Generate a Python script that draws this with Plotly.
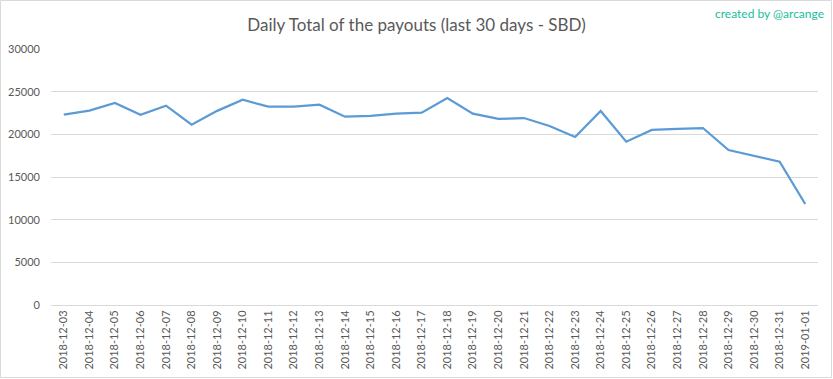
import plotly.graph_objects as go

dates = ["2018-12-03", "2018-12-04", "2018-12-05", "2018-12-06", "2018-12-07",
         "2018-12-08", "2018-12-09", "2018-12-10", "2018-12-11", "2018-12-12",
         "2018-12-13", "2018-12-14", "2018-12-15", "2018-12-16", "2018-12-17",
         "2018-12-18", "2018-12-19", "2018-12-20", "2018-12-21", "2018-12-22",
         "2018-12-23", "2018-12-24", "2018-12-25", "2018-12-26", "2018-12-27",
         "2018-12-28", "2018-12-29", "2018-12-30", "2018-12-31", "2019-01-01"]

payouts = [22300, 22770, 23670, 22300, 23360,
           21130, 22750, 24050, 23240, 23240,
           23470, 22070, 22150, 22420, 22540,
           24260, 22420, 21800, 21910, 20980,
           19690, 22730, 19140, 20510, 20630,
           20740, 18160, 17460, 16800, 11840]

y_ticks = [0, 5000, 10000, 15000, 20000, 25000, 30000]
y_tick_labels = ["0", "5000", "10000", "15000", "20000", "25000", "30000"]

title_text = "Daily Total of the payouts (last 30 days - SBD)"
credit_text = "created by @arcange"

W, H = 833, 379
ml, mr, mt, mb = 51, 15, 49, 74
pw, ph = W - ml - mr, H - mt - mb

fig = go.Figure()
fig.add_trace(go.Scatter(
    x=dates, y=payouts, mode="lines",
    line=dict(color="#5B9BD5", width=2.25),
    hoverinfo="x+y", showlegend=False,
))

fig.update_layout(
    width=W, height=H,
    margin=dict(l=ml, r=mr, t=mt, b=mb, autoexpand=False),
    paper_bgcolor="white", plot_bgcolor="white",
    font=dict(family="Lato, Liberation Sans, sans-serif", color="#595959", size=11),
    title=dict(text=title_text, x=0.5, xref="container", xanchor="center",
               y=1 - 25 / H, yref="container", yanchor="middle",
               font=dict(size=17, color="#595959", family="Lato, sans-serif")),
    xaxis=dict(type="category", tickangle=-90, showgrid=False,
               range=[-0.5, len(dates) - 0.5], automargin=False,
               showline=True, linecolor="#D9D9D9", linewidth=1,
               ticks="", tickfont=dict(size=11, color="#595959"),
               fixedrange=True),
    yaxis=dict(range=[0, 30000], tickvals=y_ticks, ticktext=y_tick_labels,
               showgrid=True, automargin=False,
               gridcolor="#D9D9D9", gridwidth=1, zeroline=False,
               showline=False, ticks="", ticklabelstandoff=10,
               tickfont=dict(size=11, color="#595959"), fixedrange=True),
    annotations=[dict(text=credit_text, xref="paper", yref="paper",
                      x=(826 - ml) / pw, y=(H - 13 - mb) / ph,
                      xanchor="right", yanchor="middle", showarrow=False,
                      font=dict(size=12, color="#1ABC9C", family="Lato, sans-serif"))],
    shapes=[dict(type="rect", xref="paper", yref="paper",
                 x0=(0.5 - ml) / pw, x1=(W - 1.5 - ml) / pw,
                 y0=-(mb - 1.5) / ph,
                 y1=(H - mb - 0.5) / ph,
                 line=dict(color="#D9D9D9", width=1), layer="below")],
)

fig.write_html("out.html", config={"displayModeBar": False},
               post_script="document.body.style.margin='0';document.body.style.overflow='hidden';")
